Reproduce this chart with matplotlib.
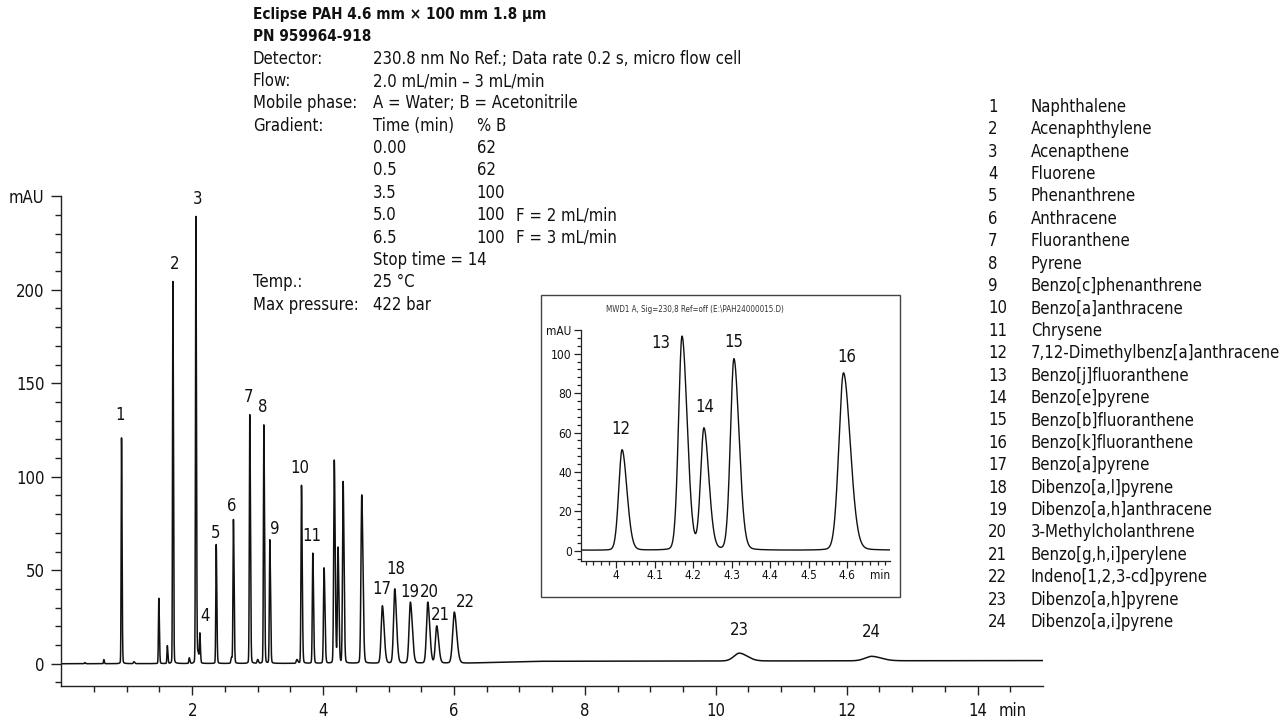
import numpy as np
import matplotlib
matplotlib.use("Agg")
import matplotlib.pyplot as plt
from matplotlib.patches import Rectangle
from matplotlib.ticker import FixedLocator

plt.rcParams['font.family'] = ['DejaVu Sans']
plt.rcParams['font.stretch'] = 'condensed'

# ---------------- data ----------------
# labelled peaks: retention time (min), height (mAU), width (sigma, min)
peak_ids = [str(i) for i in range(1, 25)]
peak_times = [0.92, 1.705, 2.056, 2.117, 2.367, 2.63, 2.88, 3.095, 3.186, 3.67,
              3.843, 4.015, 4.171, 4.228, 4.306, 4.591, 4.906, 5.095, 5.334, 5.60,
              5.736, 6.005, 10.36, 12.38]
peak_heights = [120.7, 204.3, 239.0, 15.0, 63.6, 76.8, 133.0, 127.5, 66.0, 95.2,
                58.9, 51.0, 108.5, 61.5, 97.0, 90.0, 30.7, 39.7, 32.6, 32.6,
                19.8, 27.3, 4.2, 2.4]
peak_sigmas = [0.0065, 0.0065, 0.007, 0.007, 0.0075, 0.008, 0.008, 0.008, 0.0085, 0.009,
               0.009, 0.0105, 0.011, 0.0105, 0.011, 0.0145, 0.022, 0.022, 0.024, 0.024,
               0.024, 0.03, 0.1, 0.12]
# small unlabelled peaks
minor_times = [0.36, 0.65, 1.11, 1.49, 1.62, 1.955, 2.09, 2.60, 3.00, 3.60]
minor_heights = [0.6, 2.2, 1.0, 34.9, 9.5, 3.0, 5.0, 3.0, 2.0, 2.0]
minor_sigmas = [0.008, 0.006, 0.01, 0.007, 0.007, 0.008, 0.012, 0.01, 0.01, 0.012]
# baseline drift
baseline_t = [0.0, 6.2, 7.2, 15.0]
baseline_v = [0.0, 0.3, 1.3, 1.7]

# label positions (min, mAU)
label_pos_main = {
    '1': (0.90, 133), '2': (1.727, 213.5), '3': (2.089, 248.7), '4': (2.194, 25.7),
    '5': (2.357, 70), '6': (2.61, 84.3), '7': (2.855, 142.8), '8': (3.074, 137.4),
    '9': (3.26, 71.9), '10': (3.644, 104.5), '11': (3.83, 68.4), '17': (4.896, 40),
    '18': (5.105, 50.6), '19': (5.319, 38.2), '20': (5.624, 38.5), '21': (5.79, 25.9),
    '22': (6.18, 33.2), '23': (10.36, 18), '24': (12.37, 17.1)}
label_pos_inset = {'12': (4.012, 61.6), '13': (4.116, 105.6), '14': (4.23, 72.8),
                   '15': (4.307, 106), '16': (4.60, 98.5)}

compounds = ["Naphthalene", "Acenaphthylene", "Acenapthene", "Fluorene", "Phenanthrene",
             "Anthracene", "Fluoranthene", "Pyrene", "Benzo[c]phenanthrene",
             "Benzo[a]anthracene", "Chrysene", "7,12-Dimethylbenz[a]anthracene",
             "Benzo[j]fluoranthene", "Benzo[e]pyrene", "Benzo[b]fluoranthene",
             "Benzo[k]fluoranthene", "Benzo[a]pyrene", "Dibenzo[a,l]pyrene",
             "Dibenzo[a,h]anthracene", "3-Methylcholanthrene", "Benzo[g,h,i]perylene",
             "Indeno[1,2,3-cd]pyrene", "Dibenzo[a,h]pyrene", "Dibenzo[a,i]pyrene"]

method_rows = [
    ("Detector:", "230.8 nm No Ref.; Data rate 0.2 s, micro flow cell", "", ""),
    ("Flow:", "2.0 mL/min \u2013 3 mL/min", "", ""),
    ("Mobile phase:", "A = Water; B = Acetonitrile", "", ""),
    ("Gradient:", "Time (min)", "% B", ""),
    ("", "0.00", "62", ""),
    ("", "0.5", "62", ""),
    ("", "3.5", "100", ""),
    ("", "5.0", "100", "F = 2 mL/min"),
    ("", "6.5", "100", "F = 3 mL/min"),
    ("", "Stop time = 14", "", ""),
    ("Temp.:", "25 \u00b0C", "", ""),
    ("Max pressure:", "422 bar", "", ""),
]
title_lines = ["Eclipse PAH 4.6 mm \u00d7 100 mm 1.8 \u00b5m", "PN 959964-918"]


def peak_shape(t, t0, h, s, eta=0.12, left=0.85, right=1.25):
    sig = np.where(t < t0, s * left, s * right)
    d = (t - t0) / sig
    g = np.exp(-0.5 * d * d)
    lor = 1.0 / (1.0 + (d * 1.1774) ** 2)
    return h * ((1 - eta) * g + eta * lor)


t = np.linspace(0, 15, 30001)
signal = np.interp(t, baseline_t, baseline_v)
for t0, h, s in zip(peak_times + minor_times, peak_heights + minor_heights,
                    peak_sigmas + minor_sigmas):
    signal = signal + peak_shape(t, t0, h, s)

W, H = 1284, 721
fig = plt.figure(figsize=(W / 100, H / 100), dpi=100)


def fx(x):
    return x / W


def fy(y):
    return 1 - y / H


FS = 12
TXT = '#111111'

# ---------------- main axes ----------------
ax = fig.add_axes([fx(61.3), fy(686), (1043 - 61.3) / W, (686 - 196.2) / H])
ax.plot(t, signal, color='#111111', lw=1.1)
ax.set_xlim(0, 15)
ax.set_ylim(-11.9, 250)
for sp in ['top', 'right']:
    ax.spines[sp].set_visible(False)
for sp in ['left', 'bottom']:
    ax.spines[sp].set_linewidth(1.0)
    ax.spines[sp].set_color('#222222')
ax.set_yticks([0, 50, 100, 150, 200, 250])
ax.set_yticklabels(['0', '50', '100', '150', '200', 'mAU'])
ax.yaxis.set_minor_locator(FixedLocator(np.arange(-10, 251, 10)))
ax.set_xticks([2, 4, 6, 8, 10, 12, 14])
ax.xaxis.set_minor_locator(FixedLocator(np.arange(0.5, 15, 0.5)))
ax.tick_params(axis='y', which='major', length=7.2, width=1.0, pad=4.8, labelsize=FS,
               color='#222222', labelcolor=TXT)
ax.tick_params(axis='y', which='minor', length=4.3, width=1.0, color='#222222')
ax.tick_params(axis='x', which='major', length=6.5, width=1.0, pad=5.0, labelsize=FS,
               color='#222222', labelcolor=TXT)
ax.tick_params(axis='x', which='minor', length=4.3, width=1.0, color='#222222')
ax.annotate('min', xy=(14.53, 0), xycoords=('data', 'axes fraction'),
            xytext=(0, -11.5), textcoords='offset points', ha='center', va='top',
            fontsize=FS, color=TXT, annotation_clip=False)
for k, (x, y) in label_pos_main.items():
    ax.text(x, y, k, ha='center', va='center', fontsize=FS, color=TXT, clip_on=False)

# ---------------- inset ----------------
fig.patches.append(Rectangle((fx(541), fy(597)), 359 / W, 302 / H, transform=fig.transFigure,
                             fill=False, edgecolor='#444444', lw=1.0))
fig.text(fx(695), fy(310), "MWD1 A, Sig=230,8 Ref=off (E:\\PAH24000015.D)",
         ha='center', va='center', fontsize=5.8, color='#333333')
ai = fig.add_axes([fx(581.3), fy(560.7), (890 - 581.3) / W, (560.7 - 330) / H])
m = (t >= 3.909) & (t <= 4.712)
ai.plot(t[m], signal[m], color='#111111', lw=1.0)
ai.set_xlim(3.909, 4.712)
ai.set_ylim(-5, 112)
for sp in ['top', 'right']:
    ai.spines[sp].set_visible(False)
for sp in ['left', 'bottom']:
    ai.spines[sp].set_linewidth(0.9)
    ai.spines[sp].set_color('#222222')
ai.set_yticks([0, 20, 40, 60, 80, 100, 112])
ai.set_yticklabels(['0', '20', '40', '60', '80', '100', 'mAU'])
ai.yaxis.set_minor_locator(FixedLocator(np.arange(-4, 113, 4)))
ai.set_xticks([4.0, 4.1, 4.2, 4.3, 4.4, 4.5, 4.6])
ai.set_xticklabels(['4', '4.1', '4.2', '4.3', '4.4', '4.5', '4.6'])
ai.xaxis.set_minor_locator(FixedLocator(np.arange(3.92, 4.71, 0.02)))
ai.tick_params(axis='both', which='major', length=4.8, width=0.9, labelsize=8.6,
               color='#222222', labelcolor=TXT)
ai.tick_params(axis='y', which='major', pad=2.0)
ai.tick_params(axis='x', which='major', pad=1.0)
ai.tick_params(axis='both', which='minor', length=2.6, width=0.9, color='#222222')
ai.annotate('min', xy=(4.687, 0), xycoords=('data', 'axes fraction'),
            xytext=(0, -5.8), textcoords='offset points', ha='center', va='top',
            fontsize=8.6, color=TXT, annotation_clip=False)
for k, (x, y) in label_pos_inset.items():
    ai.text(x, y, k, ha='center', va='center', fontsize=FS, color=TXT, clip_on=False)

# ---------------- method text ----------------
row_y0, row_dy = 14.0, 22.35
for i, line in enumerate(title_lines):
    fig.text(fx(252.7), fy(row_y0 + i * row_dy), line, ha='left', va='center',
             fontsize=11.0, fontweight='bold', color=TXT)
for i, (lab, v1, v2, v3) in enumerate(method_rows):
    y = fy(row_y0 + (i + 2) * row_dy)
    if lab:
        fig.text(fx(252.7), y, lab, ha='left', va='center', fontsize=FS, color=TXT)
    if v1:
        fig.text(fx(372.7), y, v1, ha='left', va='center', fontsize=FS, color=TXT)
    if v2:
        fig.text(fx(476.7), y, v2, ha='left', va='center', fontsize=FS, color=TXT)
    if v3:
        fig.text(fx(516), y, v3, ha='left', va='center', fontsize=FS, color=TXT)

# ---------------- compound list ----------------
leg_y0, leg_dy = 106.8, 22.4
for i, (pid, name) in enumerate(zip(peak_ids, compounds)):
    y = fy(leg_y0 + i * leg_dy)
    fig.text(fx(988), y, pid, ha='left', va='center', fontsize=FS, color=TXT)
    fig.text(fx(1030.7), y, name, ha='left', va='center', fontsize=FS, color=TXT)

fig.savefig('out.png', dpi=100)
